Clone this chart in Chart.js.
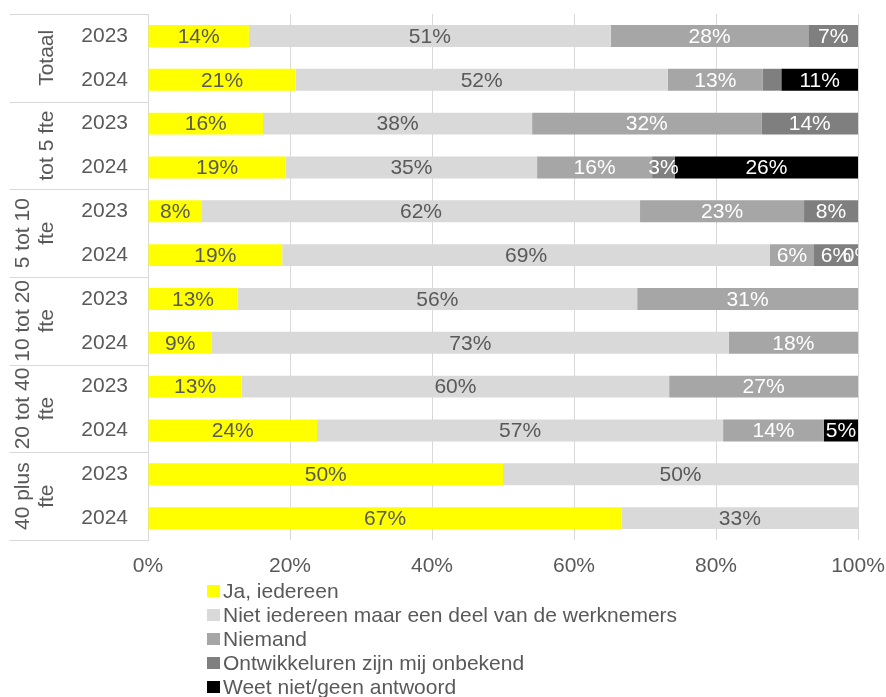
<!DOCTYPE html>
<html>
<head>
<meta charset="utf-8">
<script src="https://cdn.jsdelivr.net/npm/chart.js@4.4.1/dist/chart.umd.min.js"></script>
<style>
    html, body { margin: 0; padding: 0; background: #fff; }
    #wrap { position: relative; width: 886px; height: 697px; }
    #legend {
        position: absolute; left: 207px; top: 579px;
        font: 21px "Liberation Sans", Arial, sans-serif; color: #595959; line-height: 24px;
    }
    .item { display: flex; align-items: center; white-space: nowrap; }
    .box { width: 13px; height: 12px; margin-right: 3px; }
</style>
</head>
<body>
<div id="wrap">
    <canvas id="chart" width="886" height="697"></canvas>
    <div id="legend"></div>
</div>
<script>
// Data
const groups = ["Totaal", "tot 5 fte", ["5 tot 10", "fte"], ["10 tot 20", "fte"], ["20 tot 40", "fte"], ["40 plus", "fte"]];
const years = ["2023", "2024"];
const xTicks = [0, 20, 40, 60, 80, 100];

const seriesNames = [
    "Ja, iedereen",
    "Niet iedereen maar een deel van de werknemers",
    "Niemand",
    "Ontwikkeluren zijn mij onbekend",
    "Weet niet/geen antwoord",
];

// one value per row: Totaal 2023, Totaal 2024, tot 5 fte 2023, ...
const jaIedereen   = [14.2, 20.8, 16.2, 19.4,  7.6, 18.9, 12.6,  9.0, 13.2, 23.8, 50.0, 66.7];
const nietIedereen = [51.0, 52.4, 37.9, 35.4, 61.7, 68.7, 56.3, 72.8, 60.2, 57.2, 50.0, 33.3];
const niemand      = [27.8, 13.4, 32.3, 16.2, 23.1,  6.2, 31.1, 18.2, 26.6, 14.2, null, null];
const onbekend     = [ 7.0,  2.6, 13.6,  3.2,  7.6,  6.2, null, null, null, null, null, null];
const weetNiet     = [null, 10.8, null, 25.8, null,  0.0, null, null, null,  4.8, null, null];

const seriesValues = [jaIedereen, nietIedereen, niemand, onbekend, weetNiet];

// Styles
const seriesColors = ["#ffff00", "#d9d9d9", "#a6a6a6", "#7f7f7f", "#000000"];
const labelColors = ["#595959", "#595959", "#ffffff", "#ffffff", "#ffffff"];
const textColor = "#595959";
const gridColor = "#d9d9d9";
const fontFamily = '"Liberation Sans", Arial, sans-serif';

Chart.defaults.font.family = fontFamily;
Chart.defaults.font.size = 21;
Chart.defaults.color = textColor;

const rowLabels = [];
groups.forEach(() => years.forEach((y) => rowLabels.push(y)));

// group labels on the left, with separator lines
const groupLabels = {
    id: "groupLabels",
    afterDraw(chart) {
        const { ctx, chartArea } = chart;
        const h = (chartArea.bottom - chartArea.top) / groups.length;
        ctx.save();
        ctx.strokeStyle = gridColor;
        ctx.lineWidth = 1;
        for (let i = 0; i <= groups.length; i++) {
            const y = Math.round(chartArea.top + i * h) + 0.5;
            ctx.beginPath();
            ctx.moveTo(10, y);
            ctx.lineTo(chartArea.left, y);
            ctx.stroke();
        }
        ctx.fillStyle = textColor;
        ctx.font = "21px " + fontFamily;
        ctx.textAlign = "center";
        ctx.textBaseline = "middle";
        groups.forEach((g, i) => {
            const lines = [].concat(g);
            const cy = chartArea.top + (i + 0.5) * h;
            lines.forEach((line, j) => {
                const x = 47 - (lines.length - 1 - j) * 24;
                ctx.save();
                ctx.translate(x, cy);
                ctx.rotate(-Math.PI / 2);
                ctx.fillText(line, 0, 0);
                ctx.restore();
            });
        });
        ctx.restore();
    },
};

// value labels in the middle of each segment
const valueLabels = {
    id: "valueLabels",
    afterDatasetsDraw(chart) {
        const { ctx, chartArea } = chart;
        ctx.save();
        ctx.beginPath();
        ctx.rect(chartArea.left, chartArea.top, chartArea.right - chartArea.left, chartArea.bottom - chartArea.top);
        ctx.clip();
        ctx.font = "21px " + fontFamily;
        ctx.textAlign = "center";
        ctx.textBaseline = "middle";
        chart.data.datasets.forEach((ds, di) => {
            const meta = chart.getDatasetMeta(di);
            meta.data.forEach((bar, i) => {
                const v = ds.data[i];
                // tiny slivers had no label in the original
                if (v == null || (v > 0 && v < 3)) return;
                ctx.fillStyle = labelColors[di];
                ctx.fillText(Math.round(v) + "%", (bar.x + bar.base) / 2, bar.y + 1);
            });
        });
        ctx.restore();
    },
};

new Chart(document.getElementById("chart"), {
    type: "bar",
    data: {
        labels: rowLabels,
        datasets: seriesNames.map((name, i) => ({
            label: name,
            data: seriesValues[i],
            backgroundColor: seriesColors[i],
            borderWidth: 0,
            barPercentage: 0.5,
            categoryPercentage: 1,
        })),
    },
    options: {
        indexAxis: "y",
        responsive: false,
        animation: false,
        layout: { padding: { top: 14, right: 28, left: 0, bottom: 0 } },
        plugins: { legend: { display: false }, tooltip: { enabled: false } },
        scales: {
            x: {
                stacked: true,
                min: 0,
                max: 100,
                afterBuildTicks: (scale) => { scale.ticks = xTicks.map((v) => ({ value: v })); },
                ticks: { padding: 14, callback: (v) => v + "%", color: textColor },
                grid: { color: gridColor, drawTicks: false },
                border: { display: false },
                afterFit: (scale) => {
                    scale.height = 157;
                    scale.paddingLeft = 0;
                    scale.paddingRight = 0;
                },
            },
            y: {
                stacked: true,
                ticks: { padding: 20, color: textColor },
                grid: { display: false, drawTicks: false },
                border: { display: true, color: gridColor },
                afterFit: (scale) => {
                    scale.width = 148;
                    scale.paddingTop = 0;
                    scale.paddingBottom = 0;
                },
            },
        },
    },
    plugins: [groupLabels, valueLabels],
});

// legend, one item per line
const legend = document.getElementById("legend");
seriesNames.forEach((name, i) => {
    const item = document.createElement("div");
    item.className = "item";
    const box = document.createElement("span");
    box.className = "box";
    box.style.background = seriesColors[i];
    const txt = document.createElement("span");
    txt.textContent = name;
    item.appendChild(box);
    item.appendChild(txt);
    legend.appendChild(item);
});
</script>
</body>
</html>
